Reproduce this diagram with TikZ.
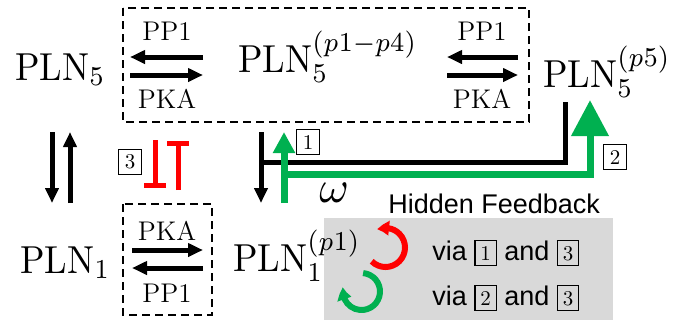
\documentclass[tikz,border=0pt]{standalone}
\usepackage{graphicx}
\usepackage{fontspec}
\setsansfont{Liberation Sans}
\usetikzlibrary{arrows.meta, bending}
\definecolor{inhred}{HTML}{FF0000}
\definecolor{fbgreen}{HTML}{00B050}
\definecolor{panelgray}{HTML}{D9D9D9}
\newcommand{\stepref}[1]{{\fboxsep=2.4pt\fboxrule=0.6pt\fbox{\rmfamily\fontsize{10.5}{12}\selectfont #1}}}
\newcommand{\plnsize}[1]{\scalebox{1.8}[1.95]{#1}}
\tikzset{
  species/.style={inner sep=0pt, font=\fontsize{10}{12}\selectfont},
  enzyme/.style={inner sep=0pt, font=\fontsize{13.5}{16}\selectfont},
  numbox/.style={
    draw, line width=0.6pt, inner sep=0pt,
    minimum width=11.5pt, minimum height=12.5pt,
    font=\fontsize{10.5}{12}\selectfont,
  },
  legend/.style={inner sep=0pt, font=\sffamily\fontsize{13.5}{16}\selectfont},
  rxn/.style={-{Triangle[length=7.5pt, width=6.5pt]}, line width=2.5pt},
  inhib/.style={-{Bar[width=11pt, line width=2.5pt]}, line width=2.5pt, inhred},
}
\begin{document}
\begin{tikzpicture}[
  x=0.5pt, y=-0.5pt,
  dashbox/.style={draw, line width=1.2pt, dash pattern=on 4pt off 2.5pt},
  fbarrow/.style={line width=3.5pt, fbgreen},
  loopbase/.style={line width=3pt, -{Triangle[length=6pt, width=7pt, bend]}},
]
  \useasboundingbox (0,0) rectangle (674,323);

  % Hidden feedback panel
  \fill[panelgray] (324,218) rectangle (613,320);

  % Dashed boxes
  \draw[dashbox] (123,8) rectangle (529,122);
  \draw[dashbox] (123,204) rectangle (212,315);

  % Species
  \node[species, anchor=base west] (pln5)  at (15,80)  {\plnsize{$\mathrm{PLN}_5$}};
  \node[species, anchor=base west] (pln5a) at (238,72) {\plnsize{$\mathrm{PLN}_5^{(p1-p4)}$}};
  \node[species, anchor=base west] (pln5b) at (543,87) {\plnsize{$\mathrm{PLN}_5^{(p5)}$}};
  \node[species, anchor=base west] (pln1)  at (20,273) {\plnsize{$\mathrm{PLN}_1$}};
  \node[species, anchor=base west] (pln1a) at (233,271) {\plnsize{$\mathrm{PLN}_1^{(p1)}$}};

  % Enzymes
  \node[enzyme] (ppTL) at (167,31)  {PP1};
  \node[enzyme] (pkTL) at (167,99)  {PKA};
  \node[enzyme] (ppTR) at (482,31)  {PP1};
  \node[enzyme] (pkTR) at (482,99)  {PKA};
  \node[enzyme] (pkB)  at (167,231) {PKA};
  \node[enzyme] (ppB)  at (167,293) {PP1};

  % Arrow ends
  \coordinate (ppTLs) at (203,57);  \coordinate (ppTLe) at (130,57);
  \coordinate (pkTLs) at (130,75);  \coordinate (pkTLe) at (203,75);
  \coordinate (ppTRs) at (518,57);  \coordinate (ppTRe) at (447,57);
  \coordinate (pkTRs) at (447,75);  \coordinate (pkTRe) at (518,75);
  \coordinate (pkBs)  at (132,250); \coordinate (pkBe)  at (203,250);
  \coordinate (ppBs)  at (203,268); \coordinate (ppBe)  at (132,268);
  \coordinate (dnLs)  at (52,132);  \coordinate (dnLe)  at (52,203);
  \coordinate (upLs)  at (70,203);  \coordinate (upLe)  at (70,132);
  \coordinate (inhAs) at (155,140); \coordinate (inhAe) at (155,188);
  \coordinate (inhBs) at (178,190); \coordinate (inhBe) at (178,141);
  \coordinate (dnMs)  at (261,132); \coordinate (dnMe)  at (261,203);
  \coordinate (blkS)  at (565,102); \coordinate (blkE)  at (261,162);
  \coordinate (grnS)  at (284,203); \coordinate (grnE)  at (284,132);
  \coordinate (grnJ)  at (284,174); \coordinate (grnT)  at (590,100);

  % Phosphorylation / dephosphorylation
  \draw[rxn] (ppTLs) -- (ppTLe);
  \draw[rxn] (pkTLs) -- (pkTLe);
  \draw[rxn] (ppTRs) -- (ppTRe);
  \draw[rxn] (pkTRs) -- (pkTRe);
  \draw[rxn] (pkBs) -- (pkBe);
  \draw[rxn] (ppBs) -- (ppBe);

  % Pentamer <-> monomer
  \draw[rxn] (dnLs) -- (dnLe);
  \draw[rxn] (upLs) -- (upLe);
  \draw[rxn] (dnMs) -- (dnMe);
  \draw[line width=2.5pt] (blkS) |- (blkE);

  % Inhibition
  \draw[inhib] (inhAs) -- (inhAe);
  \draw[inhib] (inhBs) -- (inhBe);

  % Green feedback
  \draw[fbarrow, -{Triangle[length=10.5pt, width=10.5pt]}] (grnS) -- (grnE);
  \draw[fbarrow, -{Triangle[length=18pt, width=18pt]}] (grnJ) -| (grnT);

  % Step numbers
  \node[numbox] (num1) at (308,142) {1};
  \node[numbox] (num2) at (615,157) {2};
  \node[numbox] (num3) at (130,162) {3};
  \node[species, anchor=base west] (omega) at (319,202) {\scalebox{2.25}{$\omega$}};

  % Legend
  \node[legend, anchor=base west] (fbtitle) at (388,213) {Hidden Feedback};
  \coordinate (loopR) at (385.5,247.5);
  \coordinate (loopG) at (361.5,291.5);
  \draw[loopbase, inhred] (loopR) ++(225:9.75pt) arc[start angle=225, end angle=475, radius=9.75pt];
  \draw[loopbase, fbgreen] (loopG) ++(85:9.25pt) arc[start angle=85, end angle=-193, radius=9.25pt];
  \node[legend, anchor=base west] (via13) at (432,260) {via \stepref{1} and \stepref{3}};
  \node[legend, anchor=base west] (via23) at (432,305) {via \stepref{2} and \stepref{3}};
\end{tikzpicture}
\end{document}
